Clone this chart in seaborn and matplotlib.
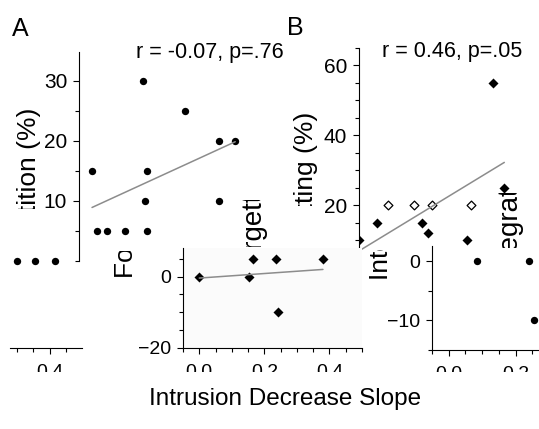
import matplotlib
matplotlib.use("Agg")
import matplotlib.pyplot as plt
import matplotlib.transforms as mtransforms
from matplotlib.ticker import MultipleLocator
import seaborn as sns

# --- data ---
# panel A (circles)
a_x = [-0.01, 0.148, 0.16, 0.277, 0.38, 0.43, 0.154, 0.38, 0.006, 0.037, 0.092, 0.16]
a_y = [15, 30, 15, 25, 20, 20, 10, 10, 5, 5, 5, 5]
a_edge_x = [-0.24, -0.185, -0.125]
a_edge_y = [0, 0, 0]

# panel B (diamonds)
b_x = [0.36, 0.394, 0.006, 0.142, 0.16, 0.28, -0.05]
b_y = [55, 25, 15, 15, 12, 10, 10]
b_open_x = [0.04, 0.117, 0.172, 0.292]
b_open_y = [20, 20, 20, 20]

# lower left fragment (diamonds)
c_x = [0.0, 0.154, 0.166, 0.237, 0.38, 0.243]
c_y = [0, 0, 5, 5, 5, -10]

# lower right fragment (circles)
d_x = [0.085, 0.24, 0.255]
d_y = [0, 0, -10]

r_text_a = "r = -0.07, p=.76"
r_text_b = "r = 0.46, p=.05"
xlabel = "Intrusion Decrease Slope"
ylabel_a = "Repetition (%)"
ylabel_b = "Forgetting (%)"
ylabel_c = "Forgetting (%)"
ylabel_d = "Integration (%)"

sns.set_style("ticks")
plt.rcParams["font.family"] = ["Liberation Sans", "DejaVu Sans"]
plt.rcParams["axes.linewidth"] = 0.8
for key in ("text.color", "axes.labelcolor", "xtick.color", "ytick.color",
            "axes.edgecolor"):
    plt.rcParams[key] = "black"

W, H = 539, 429
fig = plt.figure(figsize=(W / 100, H / 100), dpi=100)


def px_axes(x0, y0, x1, y1, z=1):
    ax = fig.add_axes([x0 / W, 1 - y1 / H, (x1 - x0) / W, (y1 - y0) / H])
    ax.set_zorder(z)
    return ax


def clip_to(artist, x0, y0, x1, y1):
    box = mtransforms.Bbox.from_extents(x0 / W, 1 - y1 / H, x1 / W, 1 - y0 / H)
    artist.set_clip_box(mtransforms.TransformedBbox(box, fig.transFigure))
    artist.set_clip_on(True)


def style(ax, size):
    ax.tick_params(which="major", direction="out", length=4.5, width=0.8,
                   labelsize=size, pad=4)
    ax.tick_params(which="minor", direction="out", length=3, width=0.8)


# --- panel A ---
ax_a = px_axes(79, 52, 258, 261)
sns.regplot(x=a_x, y=a_y, ax=ax_a, scatter=False, ci=None, color="0.55",
            line_kws={"lw": 1.1})
sns.scatterplot(x=a_x, y=a_y, ax=ax_a, color="black", s=28, linewidth=0)
sns.scatterplot(x=a_edge_x, y=a_edge_y, ax=ax_a, color="black", s=28,
                linewidth=0, clip_on=False)
ax_a.set_xlim(-0.05, 0.5)
ax_a.set_ylim(0, 34.8)
ax_a.set_yticks([10, 20, 30])
ax_a.yaxis.set_minor_locator(MultipleLocator(5))
ax_a.set_xticks([])
sns.despine(ax=ax_a, bottom=True)
style(ax_a, 15)
ax_a.set_ylabel(ylabel_a, fontsize=19)
ax_a.yaxis.set_label_coords(-0.215, 0.335)
clip_to(ax_a.yaxis.label, 0, 0, W, 209)
ax_a.text(0.32, 1.0, r_text_a, transform=ax_a.transAxes, fontsize=15.5,
          va="center", ha="left")

# --- panel B ---
ax_b = px_axes(359, 48, 539, 275)
sns.regplot(x=b_x, y=b_y, ax=ax_b, scatter=False, ci=None, color="0.55",
            line_kws={"lw": 1.1})
sns.scatterplot(x=b_x, y=b_y, ax=ax_b, color="black", marker="D", s=26,
                linewidth=0)
sns.scatterplot(x=b_open_x, y=b_open_y, ax=ax_b, color="white", marker="D",
                s=20, edgecolor="black", linewidth=0.9)
ax_b.set_xlim(-0.05, 0.5)
ax_b.set_ylim(0, 65)
ax_b.set_yticks([20, 40, 60])
ax_b.yaxis.set_minor_locator(MultipleLocator(5))
ax_b.set_xticks([])
sns.despine(ax=ax_b, bottom=True)
style(ax_b, 15)
ax_b.set_ylabel(ylabel_b, fontsize=19)
ax_b.yaxis.set_label_coords(-0.225, 0.35)
clip_to(ax_b.yaxis.label, 0, 0, W, 206)
ax_b.text(0.13, 0.985, r_text_b, transform=ax_b.transAxes, fontsize=15.5,
          va="center", ha="left")

# --- lower left fragment ---
ax_c = px_axes(183, 248, 362, 348, z=2)
ax_c.set_facecolor("#fbfbfb")
sns.regplot(x=c_x, y=c_y, ax=ax_c, scatter=False, ci=None, color="0.55",
            line_kws={"lw": 1.1})
sns.scatterplot(x=c_x, y=c_y, ax=ax_c, color="black", marker="D", s=26,
                linewidth=0)
ax_c.set_xlim(-0.05, 0.5)
ax_c.set_ylim(-20, 8)
ax_c.set_yticks([-20, 0])
ax_c.yaxis.set_minor_locator(MultipleLocator(5))
ax_c.set_xticks([0, 0.2, 0.4])
ax_c.xaxis.set_minor_locator(MultipleLocator(0.05))
sns.despine(ax=ax_c)
style(ax_c, 14)
ax_c.set_ylabel(ylabel_c, fontsize=19)
ax_c.yaxis.set_label_coords(-0.249, 1.536)
clip_to(ax_c.yaxis.label, 0, 251, W, H)

# --- lower right fragment ---
ax_d = px_axes(432, 246, 539, 350, z=2)
sns.scatterplot(x=d_x, y=d_y, ax=ax_d, color="black", s=28, linewidth=0)
ax_d.set_xlim(-0.05, 0.27)
ax_d.set_ylim(-15, 2.6)
ax_d.set_yticks([-10, 0])
ax_d.yaxis.set_minor_locator(MultipleLocator(5))
ax_d.set_xticks([0, 0.2])
ax_d.xaxis.set_minor_locator(MultipleLocator(0.05))
sns.despine(ax=ax_d)
style(ax_d, 14)
ax_d.set_ylabel(ylabel_d, fontsize=19)
ax_d.yaxis.set_label_coords(-0.369, 1.506)
clip_to(ax_d.yaxis.label, 0, 250, W, H)

# --- far left x-axis fragment ---
ax_f = px_axes(10, 268, 82, 348, z=1)
ax_f.patch.set_alpha(0)
ax_f.set_xlim(0.279, 0.497)
ax_f.set_xticks([0.4])
ax_f.xaxis.set_minor_locator(MultipleLocator(0.05))
ax_f.set_yticks([])
sns.despine(ax=ax_f, left=True)
style(ax_f, 14)

# tick labels along the bottom are cut through the middle
for ax in (ax_c, ax_d, ax_f):
    ax.tick_params(axis="x", pad=7)
    for t in ax.xaxis.get_major_ticks():
        clip_to(t.label1, 0, 0, W, 372)

# stray label pieces
t1 = fig.text(253 / W, 1 - 279 / H, "Forgetting", rotation=90, fontsize=20,
              ha="center", va="bottom")
clip_to(t1, 238, 200, 270, 247)
t2 = fig.text(509 / W, 1 - 279 / H, "Integration", rotation=90, fontsize=20,
              ha="center", va="bottom")
clip_to(t2, 495, 193, 524, 248)

fig.text(12 / W, 1 - 36 / H, "A", fontsize=18, ha="left", va="baseline")
fig.text(287 / W, 1 - 35 / H, "B", fontsize=18, ha="left", va="baseline")
fig.text(285 / W, 1 - 399 / H, xlabel, fontsize=17.5, ha="center", va="center")

fig.savefig("out.png", dpi=100)
